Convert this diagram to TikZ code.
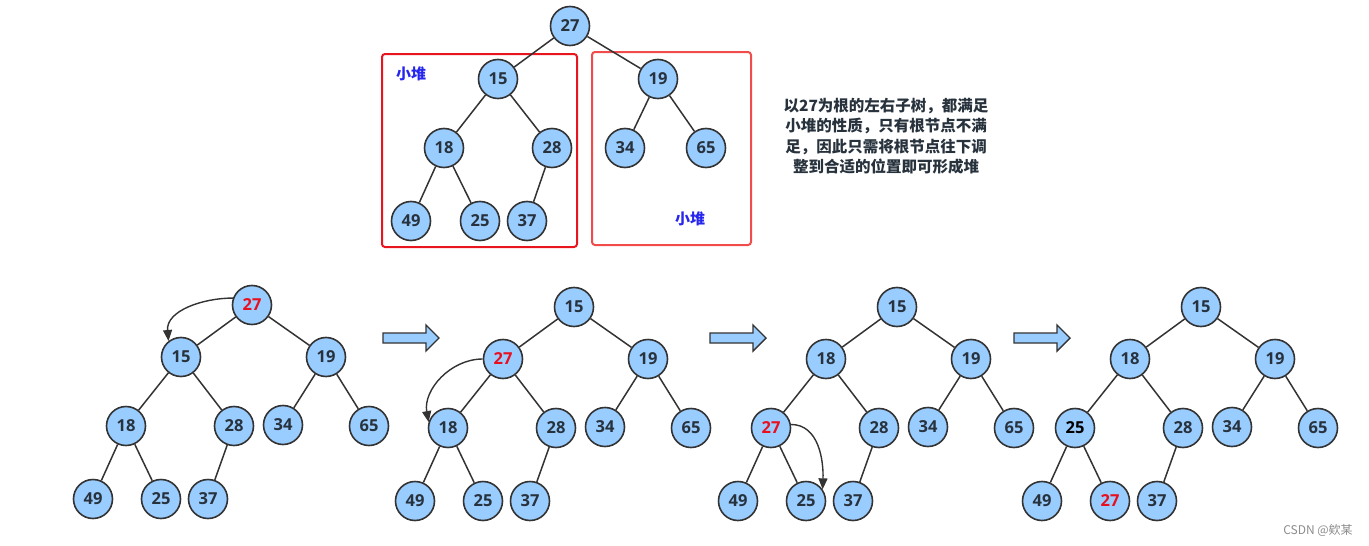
\documentclass[tikz,border=0pt]{standalone}
\usepackage{fontspec}
\setmainfont{Open Sans}
\newfontfamily\cjk{Noto Sans CJK SC}
\usetikzlibrary{calc,arrows.meta}

\definecolor{nodefill}{HTML}{99CCFF}
\definecolor{nodeline}{HTML}{333333}
\definecolor{numtext}{HTML}{27323D}
\definecolor{hotred}{HTML}{E8101E}
\definecolor{boxred}{HTML}{E8141E}
\definecolor{boxredlight}{HTML}{F04C4C}
\definecolor{heapblue}{HTML}{2626EE}

% #1 name, #2 layout, #3 #4 shift, #5 keys
\newcommand{\heaptree}[5]{%
  \foreach \v [count=\i] in {#5}
    \node[hnode] (#1-\i) at ($(#2\i)+(#3,#4)$) {\v};
  \foreach \a/\b in {1/2,1/3,2/4,2/5,3/6,3/7,4/8,4/9,5/10}
    \draw[hedge] (#1-\a) -- (#1-\b);
}

\begin{document}
\begin{tikzpicture}[x=1pt,y=1pt,
    hnode/.style={circle,draw=nodeline,fill=nodefill,line width=1.6pt,
      minimum size=39pt,inner sep=0pt,text=numtext,
      font=\fontsize{16.5}{18}\selectfont\bfseries},
    hedge/.style={draw=nodeline,line width=1.5pt},
    swap/.style={draw=nodeline,line width=1.4pt,
      -{Triangle[length=11pt,width=9pt]}},
    fatarrow/.style={draw=nodeline,fill=nodefill,line width=1.4pt,line join=miter},
    heapbox/.style={line width=2pt,rounded corners=3pt},
    heaplabel/.style={text=heapblue,font=\cjk\bfseries\fontsize{15}{18}\selectfont}]
  \useasboundingbox (0,0) rectangle (1369,-546);

  % layout of the top tree
  \foreach \x/\y [count=\i] in {570/26,498/79,658/79,444/148,552/148,
      625/148,706/148,411/221,480/221,527/221}
    \coordinate (T\i) at (\x,-\y);
  % layout of the bottom trees (first one)
  \foreach \x/\y [count=\i] in {252/305,181/357,326/357,126/426,234/426,
      283/425,369/426,93/499,161/499,208/499}
    \coordinate (L\i) at (\x,-\y);

  % the two sub heaps
  \draw[heapbox,boxred] (382,-54) rectangle (577,-247);
  \draw[heapbox,boxredlight] (592,-52) rectangle (751,-245);
  \node[heaplabel] (lheap) at (411,-74) {小堆};
  \node[heaplabel] (rheap) at (690,-219) {小堆};

  \heaptree{top}{T}{0}{0}{27,15,19,18,28,34,65,49,25,37}

  \node[text=numtext,align=center,
    font=\cjk\bfseries\fontsize{15.5}{20.5}\selectfont] (note) at (886,-136)
    {以27为根的左右子树，都满足\\小堆的性质，只有根节点不满\\
     足，因此只需将根节点往下调\\整到合适的位置即可形成堆};

  % sift down, step by step
  \heaptree{s1}{L}{0}{0}{{\color{hotred}27},15,19,18,28,34,65,49,25,37}
  \heaptree{s2}{L}{322}{-2}{15,{\color{hotred}27},19,18,28,34,65,49,25,37}
  \heaptree{s3}{L}{645}{-2}{15,18,19,{\color{hotred}27},28,34,65,49,25,37}
  \heaptree{s4}{L}{949}{-2}{15,18,19,{\color{black}25},28,34,65,49,{\color{hotred}27},37}

  \draw[swap] (s1-1.160) to[out=180,in=95] (s1-2.128);
  \draw[swap] (s2-2.west) to[out=180,in=100] (s2-4.163);
  \draw[swap] (s3-4.10) to[out=0,in=88] (s3-9.35);

  % block arrows between the steps
  \foreach \ax in {383,710,1014}
    \draw[fatarrow] (\ax,-333) -- ++(43,0) -- ++(0,8) -- ++(13,-13)
      -- ++(-13,-13) -- ++(0,8) -- ++(-43,0) -- cycle;

  \node[text=black!45,font=\cjk\fontsize{12}{14}\selectfont] (mark)
    at (1318,-530) {CSDN @欸某};
\end{tikzpicture}
\end{document}
